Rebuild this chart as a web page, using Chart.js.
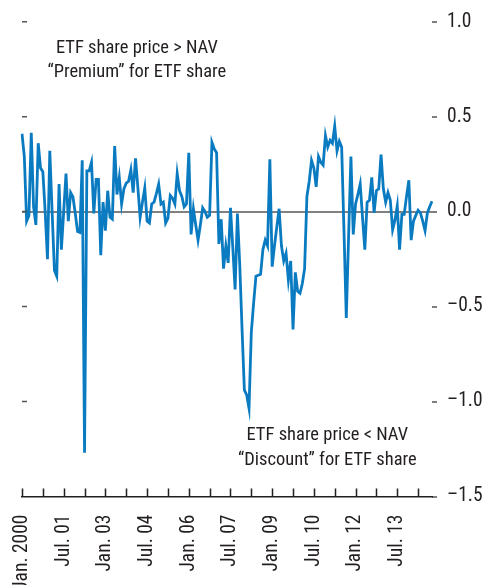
<!DOCTYPE html>
<html>
<head>
<meta charset="utf-8">
<script src="https://cdn.jsdelivr.net/npm/chart.js@4.4.1/dist/chart.umd.min.js"></script>
<style>
  html, body { margin: 0; padding: 0; background: #fff; overflow: hidden; }
  #wrap { width: 487px; height: 585px; }
</style>
</head>
<body>
<div id="wrap"><canvas id="chart" width="487" height="585"></canvas></div>
<script>
// ETF share price minus NAV, monthly from Jan. 2000 (percent)
var premium = [
    0.41, 0.29, -0.05, -0.02, 0.415, 0.025, -0.07, 0.36, 0.23, 0.21,
    0.0, -0.25, 0.32, 0.0, -0.31, -0.34, 0.145, -0.2, 0.0, 0.2,
    -0.05, 0.1, 0.077, -0.01, -0.105, -0.11, 0.27, -1.27, 0.215, 0.215,
    0.26, -0.01, 0.17, 0.17, -0.23, 0.05, -0.1, 0.11, -0.03, -0.04,
    0.345, 0.09, 0.18, 0.04, 0.12, 0.15, 0.16, 0.22, 0.1, 0.28,
    0.13, -0.03, 0.05, 0.125, -0.05, -0.06, 0.04, 0.05, 0.095, 0.145,
    0.04, 0.05, -0.06, -0.035, 0.085, 0.07, 0.04, 0.2, 0.11, 0.08,
    0.025, 0.04, 0.31, -0.12, 0.015, -0.07, -0.15, -0.07, 0.02, 0.0,
    -0.03, -0.02, 0.365, 0.33, 0.31, -0.17, -0.04, -0.3, -0.18, -0.27,
    0.02, -0.19, -0.41, -0.01, -0.28, -0.62, -0.94, -0.965, -1.035, -0.635,
    -0.48, -0.34, -0.335, -0.33, -0.2, -0.15, -0.18, 0.275, -0.29, -0.18,
    -0.08, 0.015, -0.18, -0.26, -0.22, -0.36, -0.26, -0.62, -0.32, -0.42,
    -0.43, -0.38, -0.3, 0.08, 0.16, 0.27, 0.23, 0.13, 0.29, 0.26,
    0.245, 0.4, 0.34, 0.375, 0.36, 0.45, 0.32, 0.37, 0.34, -0.1,
    -0.56, -0.13, 0.29, -0.12, 0.04, 0.09, 0.145, -0.03, -0.2, 0.05,
    0.06, 0.18, -0.007, 0.11, 0.12, 0.3, 0.12, 0.05, 0.1, 0.06,
    -0.095, -0.045, 0.03, -0.2, -0.015, -0.015, 0.08, 0.165, -0.15, -0.05,
    -0.02, 0.007, -0.007, -0.05, -0.1, -0.007, 0.025, 0.055
];

// one category per month
var months = [];
for (var i = 0; i < premium.length; i++) {
    var yr = 2000 + Math.floor(i / 12), mo = (i % 12) + 1;
    months.push(yr + "-" + (mo < 10 ? "0" : "") + mo);
}

var tickEvery = 9;
var tickLabels = ["Jan. 2000", "Jul. 01", "Jan. 03", "Jul. 04", "Jan. 06", "Jul. 07", "Jan. 09", "Jul. 10", "Jan. 12", "Jul. 13"];

var notes = [
    { text: "ETF share price > NAV", at: 49.6, value: 0.86 },
    { text: "\u201cPremium\u201d for ETF share", at: 49.6, value: 0.735 },
    { text: "ETF share price < NAV", at: 131.8, value: -1.18 },
    { text: "\u201cDiscount\u201d for ETF share", at: 131.8, value: -1.31 }
];

var FONT = "'Liberation Sans Narrow', 'Arial Narrow', 'Roboto Condensed', sans-serif";
var INK = "#231f20";

Chart.defaults.font.family = FONT;
Chart.defaults.font.size = 19.5;
Chart.defaults.color = INK;

var decorations = {
    id: "decorations",
    afterDraw: function (chart) {
        var ctx = chart.ctx, area = chart.chartArea, x = chart.scales.x, y = chart.scales.y;
        ctx.save();

        // x ticks point up into the plot
        ctx.strokeStyle = INK;
        ctx.lineWidth = 1.5;
        ctx.beginPath();
        for (var i = 0; i < months.length; i += tickEvery) {
            var px = Math.round(x.getPixelForValue(i)) + 0.5;
            ctx.moveTo(px, area.bottom + 0.5);
            ctx.lineTo(px, area.bottom - 8);
        }
        ctx.stroke();

        // small dashes on the left edge
        ctx.strokeStyle = "#555";
        ctx.beginPath();
        y.ticks.forEach(function (t) {
            if (t.value <= y.min) return;
            var py = y.getPixelForValue(t.value);
            ctx.moveTo(area.left, py);
            ctx.lineTo(area.left + 5, py);
        });
        ctx.stroke();

        ctx.fillStyle = INK;
        ctx.font = "18.5px " + FONT;
        ctx.textAlign = "center";
        ctx.textBaseline = "middle";
        notes.forEach(function (n) {
            ctx.fillText(n.text, x.getPixelForValue(n.at), y.getPixelForValue(n.value));
        });
        ctx.restore();
    }
};

new Chart(document.getElementById("chart"), {
    type: "line",
    data: {
        labels: months,
        datasets: [{
            data: premium,
            borderColor: "#0a7bc1",
            borderWidth: 2.8,
            pointRadius: 0,
            tension: 0,
            fill: false
        }]
    },
    options: {
        responsive: false,
        animation: false,
        devicePixelRatio: 1,
        layout: { padding: { top: 7, left: 22, right: 0, bottom: 0 } },
        plugins: { legend: { display: false }, tooltip: { enabled: false } },
        scales: {
            x: {
                type: "category",
                offset: false,
                grid: { display: false },
                border: { display: true, color: INK, width: 1.5 },
                ticks: {
                    autoSkip: false,
                    minRotation: 90,
                    maxRotation: 90,
                    padding: 10,
                    callback: function (value, index) {
                        return index % (tickEvery * 2) === 0 ? tickLabels[index / (tickEvery * 2)] : "";
                    }
                },
                afterFit: function (scale) { scale.height = 88.5; }
            },
            y: {
                position: "right",
                min: -1.5,
                max: 1.0,
                border: { display: false },
                grid: {
                    color: function (c) { return c.tick && c.tick.value === 0 ? "#808080" : "rgba(0,0,0,0)"; },
                    lineWidth: 2,
                    tickColor: "#555",
                    tickWidth: 1.5,
                    tickLength: 5
                },
                ticks: {
                    stepSize: 0.5,
                    padding: 10,
                    callback: function (v) { return (v < 0 ? "\u2013" : "") + Math.abs(v).toFixed(1); }
                },
                afterFit: function (scale) { scale.width = 55; }
            }
        }
    },
    plugins: [decorations]
});
</script>
</body>
</html>
